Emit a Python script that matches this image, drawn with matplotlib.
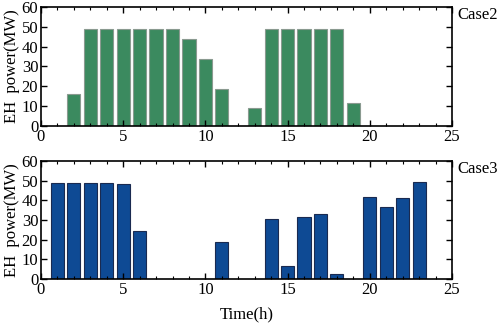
import matplotlib
matplotlib.use("Agg")
import matplotlib.pyplot as plt
from matplotlib.ticker import MultipleLocator

plt.rcParams['font.family'] = ['Liberation Serif', 'DejaVu Serif']
plt.rcParams['mathtext.fontset'] = 'stix'

hours2 = [2, 3, 4, 5, 6, 7, 8, 9, 10, 11, 13, 14, 15, 16, 17, 18, 19]
case2 = [16, 49, 49, 49, 49, 49, 49, 44, 34, 18.7, 9.1, 49, 49, 49, 49, 49, 11.6]

hours3 = [1, 2, 3, 4, 5, 6, 11, 14, 15, 16, 17, 18, 20, 21, 22, 23]
case3 = [49, 49, 49, 49, 48.3, 24.3, 18.6, 30.6, 6.7, 31.3, 33.0, 2.3, 41.8, 36.6, 41.2, 49.2]

labels = ['Case2', 'Case3']

fig = plt.figure(figsize=(4.98, 3.28), dpi=100)
ax1 = fig.add_axes([0.0823, 0.6159, 0.8253, 0.3628])
ax2 = fig.add_axes([0.0823, 0.1494, 0.8253, 0.3597])

ax1.bar(hours2, case2, width=0.8, color='#3b8a5f', edgecolor='#8a9a90', linewidth=0.8)
ax2.bar(hours3, case3, width=0.8, color='#0e4a94', edgecolor='#1a2a50', linewidth=0.8)

for ax, lab in zip([ax1, ax2], labels):
    ax.set_xlim(0, 25)
    ax.set_ylim(0, 60)
    ax.xaxis.set_major_locator(MultipleLocator(5))
    ax.xaxis.set_minor_locator(MultipleLocator(1))
    ax.yaxis.set_major_locator(MultipleLocator(10))
    ax.tick_params(which='both', direction='in', top=True, right=True, labelsize=12, pad=2)
    ax.tick_params(which='major', length=4, width=1)
    ax.tick_params(which='minor', length=2.5, width=0.8)
    for s in ax.spines.values():
        s.set_linewidth(1.2)
    ax.set_ylabel('EH  power(MW)', fontsize=12, labelpad=1)
    ax.text(1.012, 0.935, lab, transform=ax.transAxes, fontsize=12, ha='left', va='center')

ax2.set_xlabel('Time(h)', fontsize=12, labelpad=6)

fig.savefig('out.png', dpi=100)
